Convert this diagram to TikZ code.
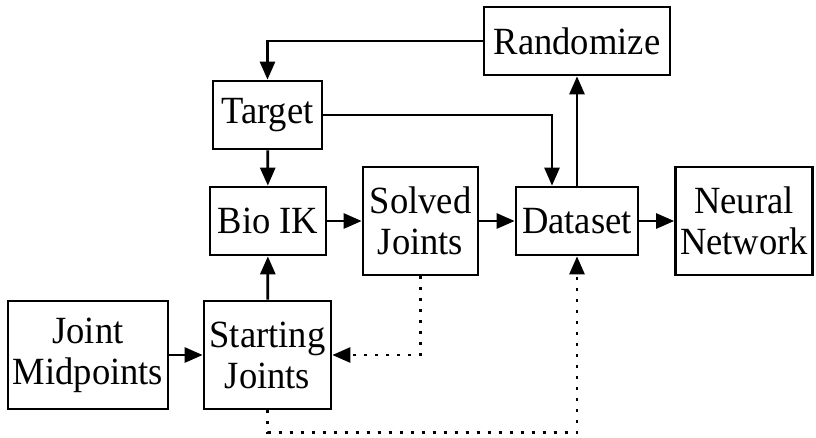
\documentclass[tikz,border=0pt]{standalone}
\usepackage{fontspec}
\setmainfont[FakeStretch=0.95]{Liberation Serif}
\usetikzlibrary{arrows.meta}
\begin{document}
\begin{tikzpicture}[x=1pt,y=-1pt,
  box/.style={draw,line width=2.7pt,inner sep=0pt,align=center,
    font=\fontsize{38.5}{41}\selectfont},
  arr/.style={line width=2.7pt,-{Triangle[length=18pt,width=15pt]}},
  dots/.style={dash pattern=on 3pt off 8pt}]
\useasboundingbox (0,0) rectangle (816,437);
\node[box,minimum width=186pt,minimum height=68pt] (rand) at (577,41) {Randomize};
\node[box,minimum width=109pt,minimum height=68pt] (target) at (267.5,115) {Target};
\node[box,minimum width=116pt,minimum height=68pt] (bioik) at (268,221) {Bio IK};
\node[box,minimum width=115pt,minimum height=108pt] (solved) at (420.5,221) {Solved\\Joints};
\node[box,minimum width=122pt,minimum height=68pt] (dataset) at (577,221) {Dataset};
\node[box,minimum width=137pt,minimum height=108pt] (nn) at (744,221) {Neural\\Network};
\node[box,minimum width=160pt,minimum height=108pt] (jm) at (88,355) {Joint\\Midpoints};
\node[box,minimum width=127pt,minimum height=108pt] (sj) at (267.5,355) {Starting\\Joints};
\draw[arr] (rand.west) -| (target.north);
\draw[arr] (target.east) -| ([xshift=-25pt]dataset.north);
\draw[arr] (target) -- (bioik);
\draw[arr] (dataset) -- (rand);
\draw[arr] (bioik) -- (solved);
\draw[arr] (solved) -- (dataset);
\draw[arr] (dataset) -- (nn);
\draw[arr] (jm) -- (sj);
\draw[arr] (sj) -- (bioik);
\draw[arr,dots] (solved.south) |- (sj.east);
\draw[arr,dots] (sj.south) -- ++(0,22) -| (dataset.south);
\end{tikzpicture}
\end{document}
